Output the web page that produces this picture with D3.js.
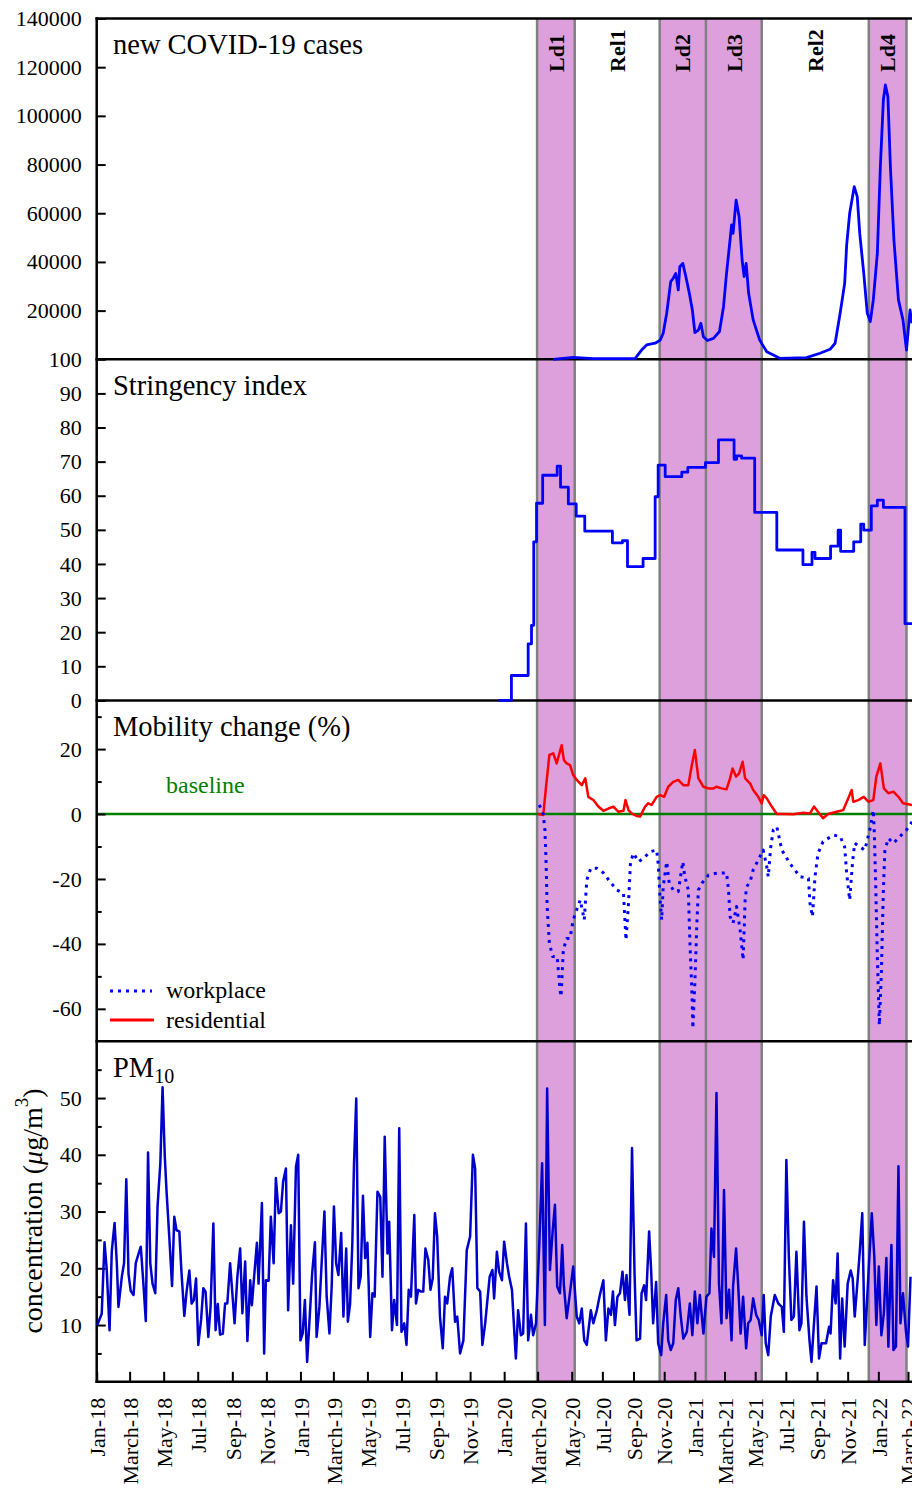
<!DOCTYPE html>
<html>

<head>
  <meta charset="UTF-8">
  <title>COVID-19 cases, stringency, mobility and PM10</title>
  <script src="https://d3js.org/d3.v7.min.js"></script>
  <style>
    body {
      margin: 0;
      background: white;
    }

    svg {
      display: block;
      font-family: "Liberation Serif", "Times New Roman", serif;
    }
  </style>
</head>

<body>
  <svg></svg>
</body>

<script>
  // every series is [day, value], day counted from 1 Jan 2018
  let startDate = Date.UTC(2018, 0, 1);

  let periods = [
    { label: "Ld1", from: "2020-02-29", to: "2020-05-07", lockdown: true },
    { label: "Rel1", from: "2020-05-07", to: "2020-10-23", lockdown: false },
    { label: "Ld2", from: "2020-10-23", to: "2021-01-23", lockdown: true },
    { label: "Ld3", from: "2021-01-23", to: "2021-05-14", lockdown: true },
    { label: "Rel2", from: "2021-05-14", to: "2021-12-13", lockdown: false },
    { label: "Ld4", from: "2021-12-13", to: "2022-02-26", lockdown: true }
  ];

  let cases = [[818, 0], [854, 800], [894, 270], [977, 300], [990, 3800], [1000, 5900], [1017, 6600],
    [1027, 7900], [1033, 10700], [1040, 18900], [1048, 31900], [1053, 33300], [1058, 35300], [1063, 28500],
    [1066, 38000], [1072, 39400], [1078, 34000], [1085, 27100], [1091, 20300], [1096, 11000], [1103, 12000],
    [1108, 14800], [1113, 9300], [1121, 7700], [1133, 8600], [1145, 11400], [1153, 21600], [1159, 35300],
    [1166, 49000], [1169, 55200], [1172, 51700], [1178, 65400], [1184, 58600], [1190, 40800], [1194, 34000],
    [1198, 39400], [1203, 27100], [1212, 16200], [1225, 7900], [1239, 3100], [1265, 400], [1318, 700],
    [1345, 2500], [1365, 4100], [1375, 6600], [1385, 18900], [1394, 31200], [1398, 47000], [1404, 60000],
    [1413, 70900], [1419, 66800], [1424, 51700], [1432, 35300], [1439, 18900], [1445, 15500], [1451, 24400],
    [1459, 43500], [1465, 79100], [1471, 106500], [1475, 112700], [1480, 107900], [1485, 79100],
    [1492, 49000], [1501, 24400], [1510, 16200], [1517, 3800], [1524, 20300], [1528, 14800]];

  // step changes: the value holds until the next change
  let stringency = [[720, 0], [743, 7.3], [773, 16.6], [779, 22], [783, 46.5], [788, 57.8], [799, 66],
    [825, 68.7], [831, 62.5], [845, 57.6], [860, 54], [877, 49.6], [932, 46.2], [952, 46.8], [962, 39.2],
    [993, 41.6], [1017, 59.7], [1023, 69], [1037, 65.6], [1070, 66.9], [1082, 68.3], [1117, 69.7],
    [1143, 76.4], [1174, 70.7], [1179, 71.7], [1189, 71], [1215, 55.1], [1259, 44.1], [1311, 39.8],
    [1329, 43.4], [1335, 41.6], [1366, 45.2], [1381, 49.9], [1386, 43.7], [1412, 46.5], [1426, 51.7],
    [1432, 49.9], [1447, 57], [1459, 58.7], [1471, 56.6], [1514, 22.5], [1530, 22.5]];

  let workplace = [[793, 2.8], [800, 0], [803, -4.9], [805, -14.2], [807, -28.5], [811, -39.8], [817, -43.9],
    [825, -43.9], [830, -54.2], [832, -56.2], [836, -41.8], [842, -38.3], [848, -38.3], [854, -32.6],
    [861, -29.5], [868, -26.5], [876, -32.6], [881, -20.3], [889, -16.7], [901, -16.7], [914, -18.1],
    [927, -20.8], [941, -23.4], [954, -24.4], [959, -38.8], [964, -27.5], [968, -14.7], [974, -12.1],
    [984, -14.7], [994, -13.6], [1007, -11.6], [1020, -11.1], [1023, -15.2], [1027, -26.5], [1030, -32.6],
    [1033, -22.4], [1040, -14.7], [1045, -21.3], [1053, -23.4], [1063, -23.9], [1072, -14.7], [1076, -19.3],
    [1083, -23.4], [1086, -38.8], [1090, -54.2], [1092, -66], [1096, -52.1], [1100, -33.6], [1103, -23.4],
    [1110, -21.3], [1123, -18.8], [1136, -18.3], [1159, -18.1], [1163, -23.4], [1166, -31.6], [1172, -33.6],
    [1179, -28.5], [1186, -35.7], [1192, -44.9], [1196, -26.5], [1199, -22.4], [1206, -20.8], [1212, -17.2],
    [1222, -14.2], [1232, -11.1], [1239, -16.2], [1242, -19.3], [1247, -10.1], [1252, -4.9], [1259, -3.9],
    [1269, -11.1], [1285, -15.2], [1305, -19.3], [1322, -19.8], [1325, -27.5], [1330, -31.6], [1335, -19.3],
    [1341, -12.1], [1351, -8.5], [1371, -6.5], [1385, -6.9], [1394, -10.1], [1398, -18.3], [1404, -26.5],
    [1410, -14.2], [1414, -9], [1424, -10.1], [1434, -11.1], [1444, -4.9], [1451, 1.2], [1453, -5.9],
    [1456, -23.4], [1459, -43.9], [1463, -65], [1467, -49], [1471, -23.4], [1474, -11.1], [1481, -7.5],
    [1491, -9], [1504, -6.9], [1517, -4.9], [1528, -2.4]];

  let residential = [[791, 0], [800, -0.3], [805, 8.4], [811, 18.2], [818, 18.7], [824, 15.6], [829, 18.7],
    [833, 21.2], [837, 16.6], [842, 15.6], [848, 15.1], [854, 12], [861, 10.5], [871, 8.9], [878, 11],
    [884, 5.3], [894, 4.3], [904, 2.3], [914, 1], [924, 1.7], [934, 2.3], [944, 0.7], [954, 1], [958, 4.3],
    [964, 1.2], [970, 0.2], [980, -0.6], [987, -0.8], [997, 2.3], [1003, 3.3], [1010, 2.8], [1020, 5.3],
    [1027, 5.8], [1035, 5.3], [1043, 8.4], [1053, 9.9], [1063, 10.5], [1073, 8.9], [1083, 8.9], [1090, 15.1],
    [1096, 19.7], [1103, 11], [1113, 8.4], [1123, 7.9], [1133, 7.9], [1139, 8.4], [1149, 7.9], [1159, 7.6],
    [1166, 11], [1171, 14], [1178, 11.5], [1184, 12.5], [1191, 16.1], [1196, 11], [1206, 9.4], [1212, 7.4],
    [1222, 5.3], [1229, 3.3], [1233, 5.8], [1239, 4.8], [1249, 2.3], [1259, 0], [1275, 0], [1292, -0.1],
    [1312, 0.4], [1325, 0.2], [1333, 2.3], [1341, 0.7], [1351, -1.3], [1361, 0], [1378, 0.7], [1391, 1.2],
    [1401, 4.8], [1408, 7.4], [1411, 3.8], [1421, 4.3], [1432, 5.3], [1441, 3.8], [1451, 4.3], [1457, 11.5],
    [1465, 15.6], [1472, 7.9], [1481, 6.4], [1491, 6.9], [1501, 5.3], [1510, 3.3], [1528, 2.8]];

  let pm10 = [[1, 10], [9, 12], [14, 24.6], [18, 19.7], [23, 9.1], [27, 23], [32, 28], [36, 21], [39, 13.2],
    [45, 18.5], [49, 20.9], [53, 35.7], [57, 19], [61, 16], [66, 15.3], [70, 20.9], [75, 22.6], [79, 23.8],
    [84, 16.8], [88, 10.7], [92, 40.4], [96, 20.9], [100, 17.3], [105, 15.6], [109, 30.9], [114, 38.5],
    [118, 51.9], [122, 39.7], [125, 33.8], [130, 25.6], [135, 16.9], [139, 29.1], [143, 26.7], [148, 26.5],
    [152, 19.1], [157, 11.6], [161, 15.9], [166, 19.6], [170, 13.8], [174, 14.4], [178, 18.2], [182, 6.5],
    [187, 10.9], [191, 16.5], [195, 15.9], [200, 7.9], [204, 13.2], [209, 27.9], [213, 9.1], [217, 13.7],
    [221, 8.3], [226, 8.5], [230, 13.8], [234, 13.8], [239, 20.9], [243, 15.6], [247, 10.3], [252, 18.5],
    [257, 23.5], [261, 12.1], [266, 21.2], [270, 7.2], [275, 17.9], [278, 13.5], [283, 19.7], [287, 24.5],
    [290, 17.3], [296, 31.5], [300, 5], [303, 17.9], [308, 17.8], [312, 29.1], [317, 20.9], [321, 35.9],
    [326, 29.7], [330, 30], [334, 35.3], [339, 37.6], [343, 12.6], [348, 27.6], [352, 17.3], [357, 37.9],
    [361, 40], [365, 7.3], [369, 8.5], [373, 14.4], [377, 3.5], [382, 12.1], [386, 19.1], [391, 24.6],
    [394, 7.9], [399, 13.2], [403, 20.9], [408, 30], [412, 15], [417, 8.5], [421, 16.8], [425, 30.9],
    [429, 20.9], [433, 18.8], [438, 26.2], [442, 11.5], [447, 23.5], [450, 10.6], [454, 13.8], [458, 24.4],
    [461, 38.5], [465, 49.9], [469, 16.5], [473, 18.5], [477, 32.8], [481, 21.8], [485, 24.5], [490, 7.9],
    [494, 15.6], [498, 15], [503, 33.5], [508, 32.6], [512, 18.5], [516, 43.2], [521, 22.6], [524, 28.2],
    [529, 9.1], [533, 14.4], [538, 10], [542, 44.7], [546, 8.8], [551, 10.3], [555, 6.5], [559, 16.2],
    [563, 15], [569, 29.4], [572, 13.8], [576, 16.2], [581, 15.9], [585, 15.9], [589, 23.5], [594, 21.5],
    [598, 16.2], [602, 18.2], [606, 29.7], [610, 25.6], [615, 11.5], [620, 5.9], [624, 15], [628, 13.8],
    [633, 18.5], [637, 20], [642, 10.6], [646, 11.5], [651, 5], [657, 7.3], [663, 23.2], [669, 25.6],
    [674, 40], [678, 37.6], [682, 16.5], [687, 15.9], [691, 6.5], [696, 10.3], [704, 18.5], [709, 19.7],
    [712, 14.7], [717, 22.9], [721, 19.4], [726, 17.9], [730, 24.7], [735, 20.9], [739, 18.5], [744, 16.2],
    [748, 9.1], [751, 4.1], [755, 12.6], [760, 8.2], [764, 8.5], [769, 27.9], [773, 7.3], [778, 11.8],
    [782, 8.2], [787, 10.3], [793, 24.4], [798, 38.5], [803, 10], [807, 51.7], [812, 19.7], [817, 26.7],
    [821, 31.2], [825, 16.8], [830, 15.6], [834, 24.1], [837, 17], [842, 11.2], [847, 15], [854, 20.3],
    [861, 11.5], [866, 10.3], [871, 12.9], [876, 7.3], [881, 6.5], [889, 12.6], [894, 10.3], [901, 12.6],
    [907, 15.3], [914, 17.9], [919, 7.3], [924, 12.9], [929, 11.8], [933, 15.9], [937, 10], [942, 15],
    [947, 15.6], [952, 19.4], [957, 14.4], [960, 18.8], [966, 11.8], [971, 41.2], [976, 19.1], [980, 7.3],
    [987, 7.6], [990, 15.6], [995, 17], [999, 14.4], [1005, 26.5], [1009, 19.7], [1013, 10.3], [1019, 17.6],
    [1023, 6.8], [1029, 4.7], [1033, 10.3], [1039, 15.3], [1043, 7.3], [1048, 5.6], [1053, 6.8], [1058, 14.4],
    [1063, 16.5], [1068, 11.5], [1073, 7.6], [1080, 8.8], [1086, 13.8], [1091, 8.2], [1096, 15.9],
    [1101, 10.3], [1106, 15.3], [1113, 8.5], [1119, 15], [1125, 15.6], [1129, 27], [1134, 22], [1139, 50.9],
    [1144, 17.3], [1149, 10.3], [1154, 33.8], [1159, 11.2], [1164, 16.2], [1169, 7.3], [1172, 16.8],
    [1178, 23.5], [1182, 17.3], [1187, 8.5], [1192, 15], [1198, 5.9], [1202, 10.3], [1207, 10.9],
    [1212, 14.7], [1218, 11.8], [1223, 10.9], [1229, 8.2], [1233, 15.3], [1237, 6.8], [1242, 4.7],
    [1247, 11.5], [1255, 15.3], [1262, 13.8], [1269, 13.2], [1273, 8.8], [1278, 39.1], [1283, 22],
    [1288, 10.9], [1293, 11.5], [1298, 22.9], [1304, 9.1], [1308, 10.3], [1313, 28.2], [1318, 15],
    [1324, 7.3], [1328, 3.5], [1333, 10.3], [1338, 16.8], [1343, 4.1], [1348, 6.8], [1357, 6.8], [1363, 9.7],
    [1366, 8.5], [1371, 17.9], [1376, 13.8], [1380, 22.6], [1385, 4.1], [1389, 14.7], [1394, 6.2],
    [1400, 17.3], [1406, 19.6], [1410, 18.2], [1414, 11.5], [1420, 18.2], [1424, 22.9], [1429, 29.7],
    [1434, 6.5], [1441, 18.5], [1448, 29.7], [1453, 22], [1457, 10], [1462, 20.3], [1467, 8.2], [1472, 12.1],
    [1477, 21.8], [1481, 6.2], [1487, 24.1], [1491, 5.6], [1496, 6.2], [1501, 38], [1505, 10.3],
    [1510, 15.6], [1516, 8.8], [1520, 6.2], [1525, 18.5]];

  let monthNames = ["Jan", "Feb", "March", "Apr", "May", "Jun", "Jul", "Aug", "Sep", "Oct", "Nov", "Dec"];
  let casesTicks = [20000, 40000, 60000, 80000, 100000, 120000, 140000];
  let stringencyTicks = [0, 10, 20, 30, 40, 50, 60, 70, 80, 90, 100];
  let mobilityTicks = [-60, -40, -20, 0, 20];
  let mobilityMinor = [-50, -30, -10, 10, 30];
  let pm10Ticks = [10, 20, 30, 40, 50];
  let pm10Minor = [5, 15, 25, 35, 45, 55];

  let width = 912,
    height = 1489;

  let svg = d3.select("svg")
    .attr("width", width)
    .attr("height", height);

  let left = 96.7,
    right = 912;
  let edges = [18.5, 359.3, 700.4, 1041.3, 1381.8];

  let toDate = day => new Date(startDate + day * 864e5);
  let parse = d3.utcParse("%Y-%m-%d");

  // the original axis is not uniform in time: later months are squeezed a little
  let x = d3.scaleUtc()
    .domain([new Date(Date.UTC(2018, 0, 1)), new Date(Date.UTC(2020, 4, 1)), new Date(Date.UTC(2022, 2, 1))])
    .range([left, 571.7, 908]);

  let yCases = d3.scaleLinear().domain([0, 140000]).range([edges[1], edges[0]]);
  let yStr = d3.scaleLinear().domain([0, 100]).range([edges[2], edges[1]]);
  let yMob = d3.scaleLinear().domain([-70, 35]).range([edges[3], edges[2]]);
  let yPm = d3.scaleLinear().domain([0, 60]).range([edges[4], edges[3]]);

  // lockdown bands
  svg.append("g")
    .selectAll("rect")
    .data(periods.filter(p => p.lockdown))
    .enter()
    .append("rect")
    .attr("x", d => x(parse(d.from)))
    .attr("width", d => x(parse(d.to)) - x(parse(d.from)))
    .attr("y", edges[0])
    .attr("height", edges[4] - edges[0])
    .attr("fill", "#dda0dd");

  let bounds = Array.from(new Set(periods.flatMap(p => [p.from, p.to])));
  svg.append("g")
    .selectAll("line")
    .data(bounds)
    .enter()
    .append("line")
    .attr("x1", d => x(parse(d)))
    .attr("x2", d => x(parse(d)))
    .attr("y1", edges[0])
    .attr("y2", edges[4])
    .attr("stroke", "#808080")
    .attr("stroke-width", 2.5);

  svg.append("g")
    .selectAll("text")
    .data(periods)
    .enter()
    .append("text")
    .attr("transform", d => {
      let cx = (x(parse(d.from)) + x(parse(d.to))) / 2;
      return "translate(" + cx + ",72) rotate(-90)";
    })
    .attr("dy", "0.35em")
    .style("font-size", "22px")
    .style("font-weight", "bold")
    .text(d => d.label);

  // baseline of the mobility panel
  svg.append("line")
    .attr("x1", left)
    .attr("x2", right)
    .attr("y1", yMob(0))
    .attr("y2", yMob(0))
    .attr("stroke", "#008000")
    .attr("stroke-width", 2.5);

  // frame
  svg.append("g")
    .selectAll("line")
    .data(edges)
    .enter()
    .append("line")
    .attr("x1", left - 1.25)
    .attr("x2", right)
    .attr("y1", d => d)
    .attr("y2", d => d)
    .attr("stroke", "black")
    .attr("stroke-width", 2.5);

  svg.append("line")
    .attr("x1", left)
    .attr("x2", left)
    .attr("y1", edges[0] - 1.25)
    .attr("y2", edges[4] + 1.25)
    .attr("stroke", "black")
    .attr("stroke-width", 2.5);

  // y axes, ticks pointing inwards
  function yAxis(scale, values, size, labels) {
    let g = svg.append("g")
      .attr("transform", "translate(" + left + ",0)")
      .call(d3.axisLeft(scale)
        .tickValues(values)
        .tickSizeInner(-size)
        .tickSizeOuter(0)
        .tickPadding(15)
        .tickFormat(d => labels ? String(d) : ""));
    g.select(".domain").remove();
    g.selectAll("line").attr("stroke", "black").attr("stroke-width", 2);
    g.selectAll("text")
      .attr("fill", "black")
      .style("font-size", "22px")
      .style("font-family", "'Liberation Serif', 'Times New Roman', serif");
  }

  yAxis(yCases, casesTicks, 9, true);
  yAxis(yStr, stringencyTicks, 9, true);
  yAxis(yMob, mobilityTicks, 9, true);
  yAxis(yMob, mobilityMinor, 5, false);
  yAxis(yPm, pm10Ticks, 9, true);
  yAxis(yPm, pm10Minor, 5, false);

  // x axis
  let monthTicks = d3.utcMonth.every(2).range(new Date(Date.UTC(2018, 0, 1)), new Date(Date.UTC(2022, 3, 1)));
  let xAxis = svg.append("g")
    .attr("transform", "translate(0," + edges[4] + ")")
    .call(d3.axisBottom(x)
      .tickValues(monthTicks)
      .tickSizeInner(-10)
      .tickSizeOuter(0)
      .tickFormat(d => monthNames[d.getUTCMonth()] + "-" + String(d.getUTCFullYear()).slice(2)));
  xAxis.select(".domain").remove();
  xAxis.selectAll("line").attr("stroke", "black").attr("stroke-width", 2);
  xAxis.selectAll("text")
    .attr("x", 0)
    .attr("y", 0)
    .attr("dy", "0.35em")
    .attr("transform", "translate(0,16) rotate(-90)")
    .attr("fill", "black")
    .style("text-anchor", "end")
    .style("font-size", "22px")
    .style("font-family", "'Liberation Serif', 'Times New Roman', serif");

  // series
  function series(data, yScale, color, extra) {
    let line = d3.line()
      .x(d => x(toDate(d[0])))
      .y(d => yScale(d[1]));
    if (extra && extra.step) line.curve(d3.curveStepAfter);
    let path = svg.append("path")
      .datum(data)
      .attr("fill", "none")
      .attr("stroke", color)
      .attr("stroke-width", extra && extra.width ? extra.width : 2.5)
      .attr("stroke-linejoin", "round")
      .attr("d", line);
    if (extra && extra.dash) path.attr("stroke-dasharray", extra.dash);
    return path;
  }

  series(cases, yCases, "#0000ff", { width: 2.8 });
  series(stringency, yStr, "#0000ff", { step: true, width: 2.8 });
  series(residential, yMob, "#ff0000", { width: 2.5 });
  series(workplace, yMob, "#0000ff", { dash: "3,5", width: 3 });
  series(pm10, yPm, "#0000cd", { width: 2.5 });

  // panel titles
  let titles = [
    { text: "new COVID-19 cases", y: 54 },
    { text: "Stringency index", y: 395 },
    { text: "Mobility change (%)", y: 736 }
  ];
  svg.append("g")
    .selectAll("text")
    .data(titles)
    .enter()
    .append("text")
    .attr("x", 113)
    .attr("y", d => d.y)
    .style("font-size", "28.5px")
    .text(d => d.text);

  let pmTitle = svg.append("text")
    .attr("x", 113)
    .attr("y", 1077)
    .style("font-size", "28.5px");
  pmTitle.append("tspan").text("PM");
  pmTitle.append("tspan").attr("dy", 6).style("font-size", "20px").text("10");

  svg.append("text")
    .attr("x", 166)
    .attr("y", 793)
    .attr("fill", "#008000")
    .style("font-size", "24px")
    .text("baseline");

  // legend
  let legend = svg.append("g");
  legend.append("line")
    .attr("x1", 110).attr("x2", 152)
    .attr("y1", 991).attr("y2", 991)
    .attr("stroke", "#0000ff")
    .attr("stroke-width", 3)
    .attr("stroke-dasharray", "3,5");
  legend.append("line")
    .attr("x1", 110).attr("x2", 154)
    .attr("y1", 1020).attr("y2", 1020)
    .attr("stroke", "#ff0000")
    .attr("stroke-width", 3);
  legend.append("text")
    .attr("x", 166).attr("y", 998)
    .style("font-size", "24px")
    .text("workplace");
  legend.append("text")
    .attr("x", 166).attr("y", 1028)
    .style("font-size", "24px")
    .text("residential");

  // unit label of the PM10 panel
  let yTitle = svg.append("text")
    .attr("transform", "translate(42,1211) rotate(-90)")
    .style("text-anchor", "middle")
    .style("font-size", "28px");
  yTitle.append("tspan").text("concentration (");
  yTitle.append("tspan").style("font-style", "italic").text("μ");
  yTitle.append("tspan").text("g/m");
  yTitle.append("tspan").attr("dy", -14).style("font-size", "19px").text("3");
  yTitle.append("tspan").attr("dy", 14).text(")");
</script>

</html>
